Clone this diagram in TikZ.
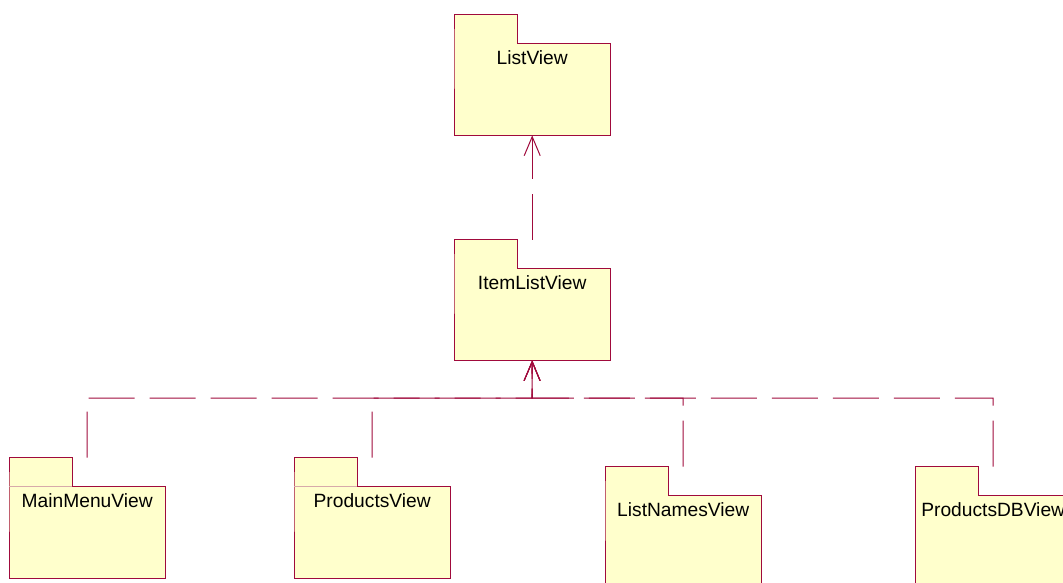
\documentclass[tikz,border=0pt]{standalone}
\usepackage{fontspec}
\setmainfont{Liberation Sans}
\usetikzlibrary{arrows.meta,calc}
\definecolor{pkgline}{RGB}{160,10,60}
\definecolor{pkgfill}{RGB}{255,255,204}
\definecolor{faint}{RGB}{215,170,170}
\tikzset{
  body/.style={fill=pkgfill, minimum width=156pt, minimum height=92pt, inner sep=0pt, anchor=north west},
  tab/.style={fill=pkgfill, minimum width=63pt, minimum height=28pt, inner sep=0pt, anchor=south west},
  outline/.style={draw=pkgline, line width=1pt, line join=miter},
  pkgtext/.style={font=\fontsize{19.2}{21}\selectfont, text=black, inner sep=0pt},
  dep/.style={draw=pkgline, line width=1pt, dash pattern=on 46pt off 15pt, -{Straight Barb[length=19pt,width=16pt,line width=1pt]}},
}
\newcommand\pkgbox[5]{%
  \node[body] (#1) at (#2,#3) {};
  \node[tab] (#1tab) at (#1.north west) {};
  \draw[outline] (#1tab.south west) -- (#1tab.north west) -- (#1tab.north east) -- (#1tab.south east) -- (#1.north east) -- (#1.south east) -- (#1.south west) -- cycle;
  \ifx#5y\draw[faint, line width=0.8pt] (#1tab.south west) -- (#1tab.south east);\fi
  \node[pkgtext] (#1label) at ([yshift=-15pt]#1.north) {#4};
}
\begin{document}
\begin{tikzpicture}[x=1pt,y=-1pt]
\useasboundingbox (0,0) rectangle (1063,582);
\pkgbox{lv}{454}{43}{ListView}{n}
\pkgbox{ilv}{454}{268}{ItemListView}{n}
\pkgbox{mm}{9}{486}{MainMenuView}{y}
\pkgbox{pv}{294}{486}{ProductsView}{y}
\pkgbox{ln}{605}{495}{ListNamesView}{n}
\pkgbox{pdb}{915}{495}{ProductsDBView}{n}
\coordinate (bus) at (532,398);
\draw[dep] (ilv.north |- ilvtab.north) -- (lv.south);
\draw[dep] (mm.north |- mmtab.north) |- (bus) -- (ilv.south);
\draw[dep] (pv.north |- pvtab.north) |- (bus) -- (ilv.south);
\draw[dep] (ln.north |- lntab.north) |- (bus) -- (ilv.south);
\draw[dep] (pdb.north |- pdbtab.north) |- (bus) -- (ilv.south);
\end{tikzpicture}
\end{document}
